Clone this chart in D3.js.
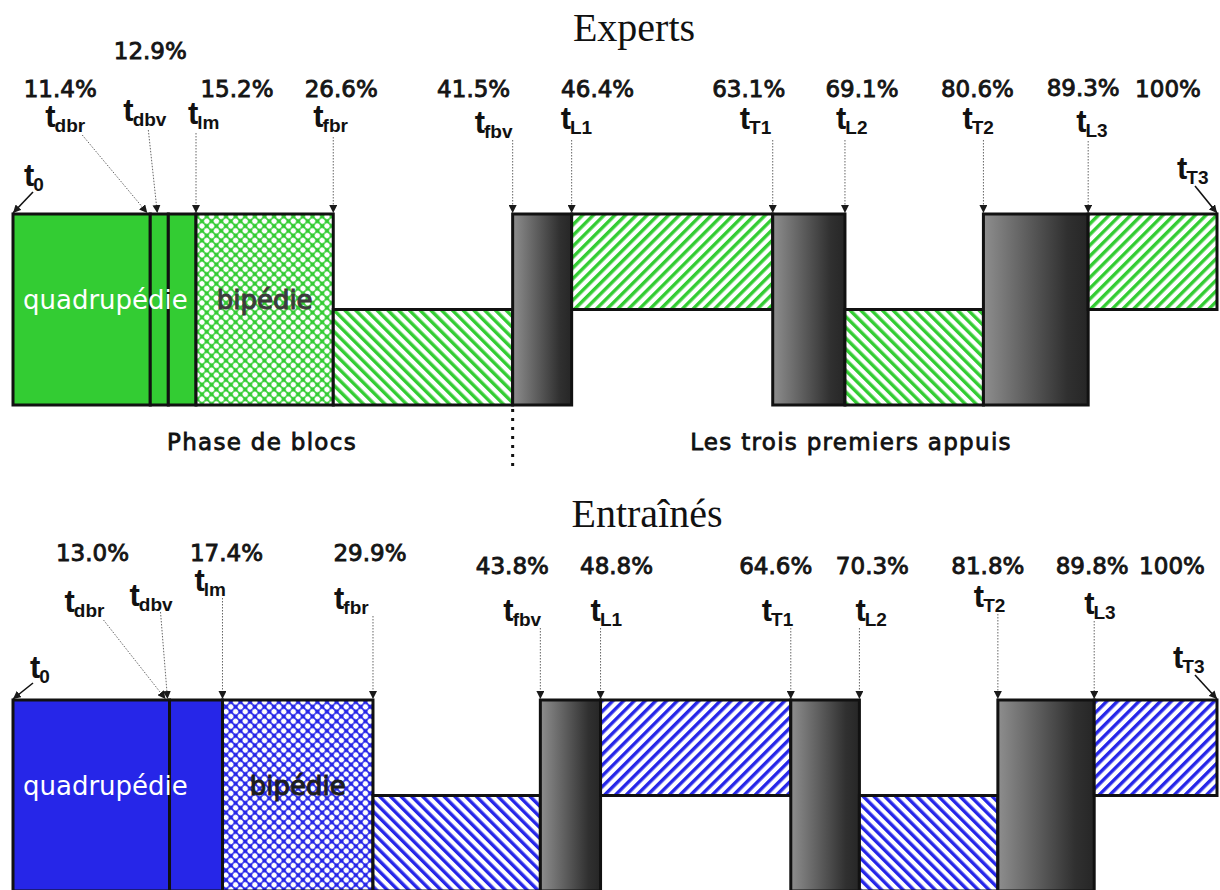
<!DOCTYPE html>
<html><head><meta charset="utf-8">
<script src="https://cdn.jsdelivr.net/npm/d3@7"></script>
<style>body{margin:0;background:#fff}</style>
</head><body><svg id="c" width="1220" height="890"></svg>
<script>
// ---------- data ----------
const panelTitles = ["Experts", "Entraînés"];
const eventNames = ["0","dbr","dbv","lm","fbr","fbv","L1","T1","L2","T2","L3","T3"];
const expertsTimes = [0, 11.4, 12.9, 15.2, 26.6, 41.5, 46.4, 63.1, 69.1, 80.6, 89.3, 100];
const trainedTimes = [0, 13.0, 13.0, 17.4, 29.9, 43.8, 48.8, 64.6, 70.3, 81.8, 89.8, 100];
const expertsTickLabels = ["", "11.4%", "12.9%", "15.2%", "26.6%", "41.5%", "46.4%", "63.1%", "69.1%", "80.6%", "89.3%", "100%"];
const trainedTickLabels = ["", "13.0%", "", "17.4%", "29.9%", "43.8%", "48.8%", "64.6%", "70.3%", "81.8%", "89.8%", "100%"];
// kind of each phase between consecutive event times
const phaseKinds = ["solid","solid","solid","cross","low","gray","high","gray","low","gray","high"];
const phaseTexts = ["quadrupédie", "bipédie"];
const sectionTexts = ["Phase de blocs", "Les trois premiers appuis"];
const panelColors = ["#33cc33", "#2626e8"];

// ---------- layout (not data) ----------
const layouts = [
  { top: 214, height: 191, titleX: 634, titleY: 41, bipColor: "#3c3c3c",
    pct: [null,[-90,97],[-18,59],[41,97],[8,97],[-39,97],[26,97],[-24,97],[17,97],[-6,97],[-5,96],[-49,97]],
    // [labelLeftDx, baseline, lineStartDx, lineStartY, tipDx, solid]
    tl: [[11,186,20,192,0,1],[-105,127,-68,135,-3,0],[-45,121,-20,130,-11,0],[-8,124,0,133,0,0],
         [-20,127,0,137,0,0],[-38,133,0,140,0,0],[-11,129,0,140,0,0],[-33,129,0,140,0,0],
         [-9,129,0,140,0,0],[-21,129,0,140,0,0],[-12,132,0,141,0,0],[-40,179,-22,186,0,1]],
    sections: true },
  { top: 700, height: 191, titleX: 647, titleY: 527, bipColor: "#1e1e1e",
    pct: [null,[-77,561],null,[4,561],[-3,561],[-28,574],[16,574],[-15,574],[13,574],[-10,574],[-2,574],[-45,574]],
    tl: [[17,678,20,683,0,1],[-105,612,-66,620,-4,0],[-40,606,-9,612,-2,0],[-28,591,0,598,0,0],
         [-39,609,0,616,0,0],[-37,621,0,628,0,0],[-10,621,0,628,0,0],[-29,621,0,628,0,0],
         [-4,621,0,628,0,0],[-24,607,0,614,0,0],[-10,614,0,621,0,0],[-44,668,-22,675,0,1]],
    sections: false }
];

const svg = d3.select("#c");
svg.append("rect").attr("width",1220).attr("height",890).attr("fill","#fff");
const defs = svg.append("defs");

const x = d3.scaleLinear().domain([0, 100]).range([13, 1217]);

// gray gradient
const gg = defs.append("linearGradient").attr("id","grayGrad").attr("x1",0).attr("x2",1).attr("y1",0).attr("y2",0);
gg.append("stop").attr("offset","0%").attr("stop-color","#8e8e8e");
gg.append("stop").attr("offset","80%").attr("stop-color","#303030");
gg.append("stop").attr("offset","100%").attr("stop-color","#262626");

// patterns per colour
const P = 7.6, SW = 3.4;
panelColors.forEach((col, i) => {
  const up = defs.append("pattern").attr("id","up"+i).attr("patternUnits","userSpaceOnUse")
    .attr("width",P).attr("height",P).attr("patternTransform","rotate(45)");
  up.append("rect").attr("width",P).attr("height",P).attr("fill","#fff");
  up.append("rect").attr("x",0).attr("width",SW).attr("height",P).attr("fill",col);
  const dn = defs.append("pattern").attr("id","dn"+i).attr("patternUnits","userSpaceOnUse")
    .attr("width",P).attr("height",P).attr("patternTransform","rotate(-45)");
  dn.append("rect").attr("width",P).attr("height",P).attr("fill","#fff");
  dn.append("rect").attr("x",0).attr("width",SW).attr("height",P).attr("fill",col);
  const cr = defs.append("pattern").attr("id","cr"+i).attr("patternUnits","userSpaceOnUse")
    .attr("width",6.8).attr("height",6.8).attr("patternTransform","rotate(45)");
  cr.append("rect").attr("width",6.8).attr("height",6.8).attr("fill",col);
  cr.append("circle").attr("cx",3.4).attr("cy",3.4).attr("r",2.7).attr("fill","#fff");
});

// arrow marker
defs.append("marker").attr("id","arr").attr("viewBox","0 -4 8 8").attr("refX",8).attr("refY",0)
  .attr("markerWidth",8).attr("markerHeight",8).attr("markerUnits","userSpaceOnUse").attr("orient","auto")
  .append("path").attr("d","M0,-4L8,0L0,4Z").attr("fill","#1a1a1a");

const times = [expertsTimes, trainedTimes];
const tickLabels = [expertsTickLabels, trainedTickLabels];
const pctFont = "'DejaVu Sans', sans-serif";

layouts.forEach((L, p) => {
  const g = svg.append("g");
  const y = d3.scaleLinear().domain([0, 2]).range([L.top + L.height, L.top]);
  const T = times[p];
  const col = panelColors[p];

  // title
  g.append("text").attr("x", L.titleX).attr("y", L.titleY).attr("text-anchor","middle")
    .attr("font-family","'Liberation Serif', 'Times New Roman', serif").attr("font-size",40)
    .attr("fill","#111").text(panelTitles[p]);

  // phases
  const phases = phaseKinds.map((k, i) => ({ k, a: T[i], b: T[i+1] }));
  const fillOf = k => k === "solid" ? col : k === "cross" ? `url(#cr${p})` :
                      k === "gray" ? "url(#grayGrad)" : k === "high" ? `url(#up${p})` : `url(#dn${p})`;
  const lo = k => k === "high" ? 1 : 0;
  const hi = k => k === "low" ? 1 : 2;
  g.selectAll("rect.ph").data(phases).join("rect").attr("class","ph")
    .attr("x", d => x(d.a)).attr("width", d => x(d.b) - x(d.a))
    .attr("y", d => y(hi(d.k))).attr("height", d => y(lo(d.k)) - y(hi(d.k)))
    .attr("fill", d => fillOf(d.k)).attr("stroke","#111").attr("stroke-width",3);

  // texts inside bars
  const midY = y(1);
  g.append("text").attr("x", x(0) + 10).attr("y", midY - 1)
    .attr("font-family", pctFont).attr("font-size", 26).attr("fill","#fff").text(phaseTexts[0]);
  const crossPh = phases.find(d => d.k === "cross");
  g.append("text").attr("x", (x(crossPh.a) + x(crossPh.b)) / 2).attr("y", midY - 1).attr("text-anchor","middle")
    .attr("font-family", pctFont).attr("font-size", 26).attr("fill", L.bipColor)
    .attr("stroke", L.bipColor).attr("stroke-width",1).text(phaseTexts[1]);

  // percentage labels
  T.forEach((v, i) => {
    const lay = L.pct[i];
    if (!lay || !tickLabels[p][i]) return;
    g.append("text").attr("x", x(v) + lay[0]).attr("y", lay[1]).attr("text-anchor","middle")
      .attr("font-family", pctFont).attr("font-size", 23).attr("fill","#151515")
      .attr("stroke","#151515").attr("stroke-width",0.9).text(tickLabels[p][i]);
  });

  // event labels and arrows
  T.forEach((v, i) => {
    const t = L.tl[i];
    const ex = x(v);
    const lab = g.append("text").attr("x", ex + t[0]).attr("y", t[1])
      .attr("font-family","'Liberation Sans', Arial, sans-serif").attr("font-weight","bold").attr("fill","#111");
    lab.append("tspan").attr("font-size", 31).text("t");
    lab.append("tspan").attr("font-size", 19).attr("dx", -1).attr("dy", 5).text(eventNames[i]);
    g.append("line").attr("x1", ex + t[2]).attr("y1", t[3]).attr("x2", ex + t[4]).attr("y2", L.top - 1)
      .attr("stroke", t[5] ? "#111" : "#666").attr("stroke-width", t[5] ? 1.6 : 1)
      .attr("stroke-dasharray", t[5] ? null : "1.5,1.5").attr("marker-end","url(#arr)");
  });

  if (L.sections) {
    const by = L.top + L.height;
    g.append("text").attr("x", 262).attr("y", by + 45).attr("text-anchor","middle")
      .attr("font-family", pctFont).attr("font-size", 23).attr("letter-spacing", 1.3).attr("fill","#111")
      .attr("stroke","#111").attr("stroke-width",0.8).text(sectionTexts[0]);
    g.append("text").attr("x", 851).attr("y", by + 45).attr("text-anchor","middle")
      .attr("font-family", pctFont).attr("font-size", 23).attr("letter-spacing", 1.3).attr("fill","#111")
      .attr("stroke","#111").attr("stroke-width",0.8).text(sectionTexts[1]);
    const sx = x(T[5]);
    g.append("line").attr("x1", sx).attr("x2", sx).attr("y1", by + 4).attr("y2", by + 66)
      .attr("stroke","#111").attr("stroke-width",3).attr("stroke-dasharray","3,6");
  }
});
</script></body></html>
